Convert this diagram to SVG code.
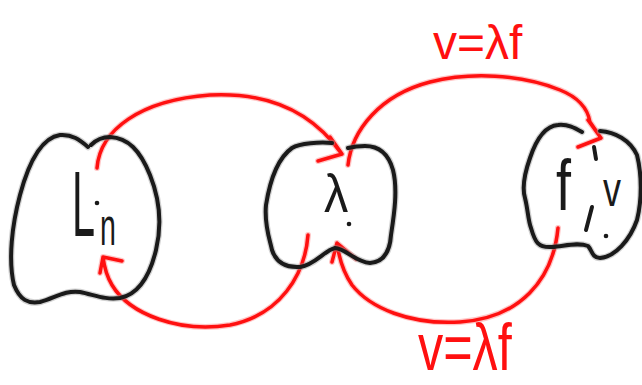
<svg xmlns="http://www.w3.org/2000/svg" width="642" height="385" viewBox="0 0 642 385">
<defs>
<style>
.blob{fill:none;stroke:#1a1a1a;stroke-width:4;stroke-linecap:round;stroke-linejoin:round}
.halo{fill:none;stroke:#9a9a9a;stroke-width:6.5;stroke-linecap:round;stroke-linejoin:round;opacity:0.45}
.arc{fill:none;stroke:#ff1010;stroke-width:3.5;stroke-linecap:round;stroke-linejoin:round}
.rhalo{fill:none;stroke:#ff8080;stroke-width:6;stroke-linecap:round;stroke-linejoin:round;opacity:0.45}
.t{font-family:"Liberation Sans","DejaVu Sans",sans-serif;fill:#1a1a1a}
.rt{font-family:"Liberation Sans","DejaVu Sans",sans-serif;fill:#ff1010}
</style>
</defs>
<rect width="642" height="385" fill="#ffffff"/>
<g id="connectors">
<g id="arc-L-to-lambda">
<path class="rhalo" d="M 97,168 C 100,130 140,100 210,95 C 270,92 312,112 341,153 M 318,161 L 342,154 L 330,137"/>
<path class="arc" d="M 97,168 C 100,130 140,100 210,95 C 270,92 312,112 341,153 M 318,161 L 342,154 L 330,137"/>
</g>
<g id="arc-lambda-to-f">
<path class="rhalo" d="M 348,165 C 352,130 380,95 430,82 C 470,72 520,74 560,90 C 580,98 588,110 590,122 C 594,128 598,133 600,137 M 578,147 L 601,138 L 588,120"/>
<path class="arc" d="M 348,165 C 352,130 380,95 430,82 C 470,72 520,74 560,90 C 580,98 588,110 590,122 C 594,128 598,133 600,137 M 578,147 L 601,138 L 588,120"/>
</g>
<g id="arc-lambda-to-L">
<path class="rhalo" d="M 308,235 C 305,275 280,315 230,325 C 180,333 130,315 112,285 C 106,275 104,265 103,257 M 100,273 L 103,257 L 122,261"/>
<path class="arc" d="M 308,235 C 305,275 280,315 230,325 C 180,333 130,315 112,285 C 106,275 104,265 103,257 M 100,273 L 103,257 L 122,261"/>
</g>
<g id="arc-f-to-lambda">
<path class="rhalo" d="M 558,228 C 553,280 520,318 460,322 C 410,325 370,308 352,285 C 343,272 339,258 337,243 M 332,262 L 337,243 L 356,259"/>
<path class="arc" d="M 558,228 C 553,280 520,318 460,322 C 410,325 370,308 352,285 C 343,272 339,258 337,243 M 332,262 L 337,243 L 356,259"/>
</g>
</g>
<g id="node-Lin">
<path class="halo" d="M 88,147 C 80,140 72,134 60,135 C 40,138 28,165 20,195 C 12,225 8,260 14,285 C 20,300 28,304 40,302 C 55,298 65,290 80,292 C 95,295 105,300 120,298 C 140,294 150,275 156,250 C 162,225 160,200 150,175 C 140,150 128,138 110,137 C 100,137 94,142 91,145"/>
<path class="blob" d="M 88,147 C 80,140 72,134 60,135 C 40,138 28,165 20,195 C 12,225 8,260 14,285 C 20,300 28,304 40,302 C 55,298 65,290 80,292 C 95,295 105,300 120,298 C 140,294 150,275 156,250 C 162,225 160,200 150,175 C 140,150 128,138 110,137 C 100,137 94,142 91,145"/>
<text class="t" font-size="92" transform="translate(72,236) scale(0.45,1)">L</text>
<text class="t" font-size="52" transform="translate(100,245) scale(0.55,1)">n</text>
<circle cx="97" cy="203" r="2.3" fill="#1a1a1a"/>
</g>
<g id="node-lambda">
<path class="halo" d="M 332,143 C 320,142 300,143 292,148 C 278,158 270,180 266,205 C 264,225 270,240 272,250 C 276,262 285,268 300,267 C 315,265 325,250 335,248 C 345,248 355,262 370,263 C 385,262 390,250 391,235 C 394,215 398,190 393,170 C 388,152 378,146 365,146 C 358,146 352,147 348,148"/>
<path class="blob" d="M 332,143 C 320,142 300,143 292,148 C 278,158 270,180 266,205 C 264,225 270,240 272,250 C 276,262 285,268 300,267 C 315,265 325,250 335,248 C 345,248 355,262 370,263 C 385,262 390,250 391,235 C 394,215 398,190 393,170 C 388,152 378,146 365,146 C 358,146 352,147 348,148"/>
<text class="t" font-size="54" transform="translate(324,212) scale(0.9,1)">λ</text>
<circle cx="349" cy="224" r="2.3" fill="#1a1a1a"/>
</g>
<g id="node-fv">
<path class="halo" d="M 582,132 C 575,128 568,124 558,125 C 545,126 536,140 530,158 C 524,175 522,188 525,198 C 528,210 528,220 531,228 C 535,242 538,248 552,247 C 565,246 578,242 588,246 C 592,250 592,258 600,258 C 615,257 630,240 637,220 C 642,200 642,175 637,155 C 630,140 615,132 600,131"/>
<path class="blob" d="M 582,132 C 575,128 568,124 558,125 C 545,126 536,140 530,158 C 524,175 522,188 525,198 C 528,210 528,220 531,228 C 535,242 538,248 552,247 C 565,246 578,242 588,246 C 592,250 592,258 600,258 C 615,257 630,240 637,220 C 642,200 642,175 637,155 C 630,140 615,132 600,131"/>
<text class="t" font-size="72" transform="translate(556,210) scale(0.75,1)">f</text>
<text class="t" font-size="48" transform="translate(603,206) scale(0.75,1)">v</text>
<path class="blob" d="M 594,147 L 596,159 M 592,207 L 586,230"/>
<circle cx="606" cy="236" r="2.3" fill="#1a1a1a"/>
</g>
<text class="rt" font-size="48" transform="translate(433,59)">v=λf</text>
<text class="rt" font-size="56" transform="translate(418,370) scale(0.9,1.2)">v=λf</text>
</svg>
